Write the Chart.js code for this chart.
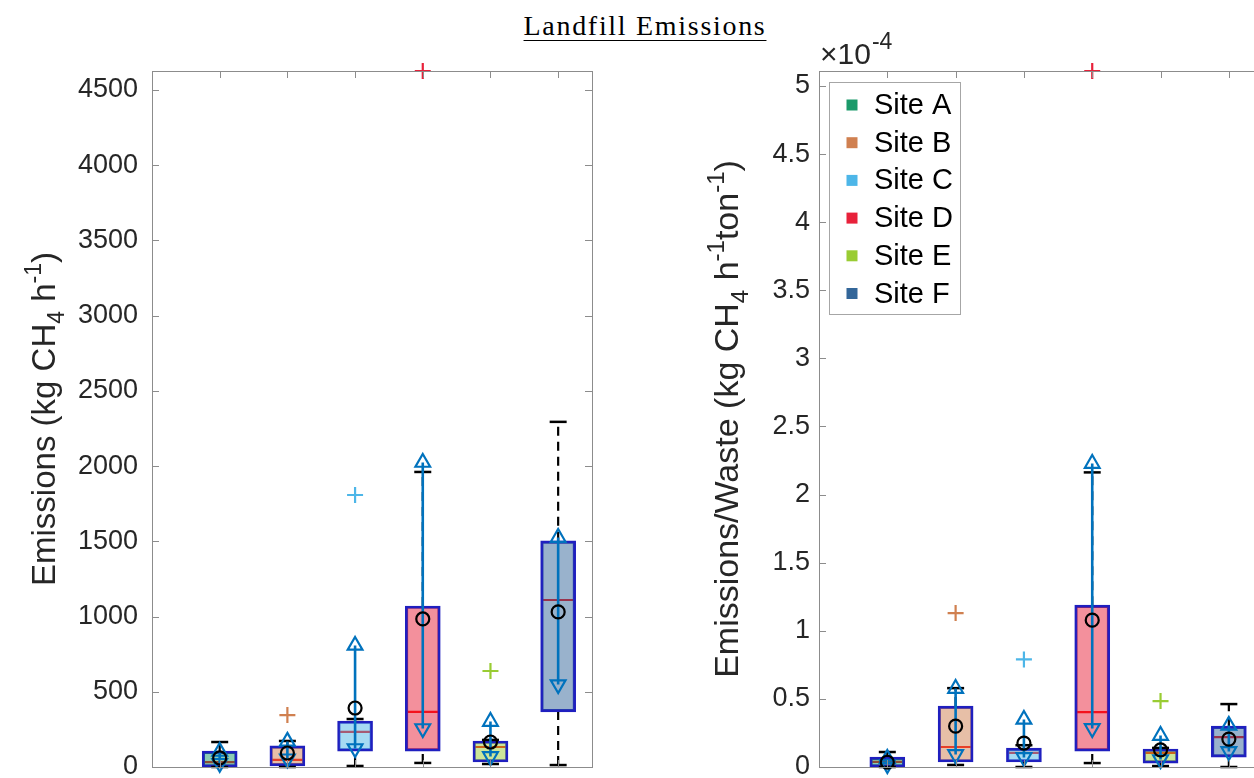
<!DOCTYPE html>
<html>
<head>
<meta charset="utf-8">
<title>Landfill Emissions</title>
<script src="https://cdn.jsdelivr.net/npm/chart.js@4.4.1/dist/chart.umd.min.js"></script>
<style>
  html, body { margin: 0; padding: 0; background: #ffffff; }
  body { position: relative; width: 1254px; height: 778px; overflow: hidden; }
  #title {
    position: absolute; left: 445px; top: 11px; width: 400px; text-align: center;
    font-family: "Liberation Serif", "DejaVu Serif", serif; font-size: 28px; line-height: 30px;
    letter-spacing: 1.7px; color: #000;
    text-decoration: underline; text-decoration-thickness: 1px; text-underline-offset: 5px;
  }
  canvas { position: absolute; top: 0; }
  #emChart { left: 0; }
  #ewChart { left: 640px; }
</style>
</head>
<body>
<div id="title">Landfill Emissions</div>
<canvas id="emChart" width="620" height="778"></canvas>
<canvas id="ewChart" width="660" height="778"></canvas>

<script>
// ---- sites ----
const SITES = ['Site A', 'Site B', 'Site C', 'Site D', 'Site E', 'Site F'];
const SITE_COLORS = ['#1b9a6a', '#d08050', '#4db6e8', '#e8213a', '#99cc33', '#336699'];
const SITE_FILLS = ['rgba(27,154,106,0.5)', 'rgba(208,128,80,0.5)', 'rgba(77,182,232,0.5)',
                    'rgba(232,33,58,0.5)', 'rgba(153,204,51,0.5)', 'rgba(51,102,153,0.5)'];
const POSITIONS = [1, 2, 3, 4, 5, 6];

// ---- emissions, kg CH4 per hour ----
const emQ1          = [0, 7, 106, 106, 33, 366];
const emQ3          = [106, 140, 306, 1070, 173, 1503];
const emMedian      = [33, 47, 233, 366, 133, 1110];
const emWhiskerLow  = [0, 0, 7, 27, 20, 13];
const emWhiskerHigh = [166, 173, 319, 1961, 180, 2294];
const emMean        = [60, 93, 392, 984, 166, 1031];
const emRangeHigh   = [103, 170, 808, 2024, 302, 1525];
const emRangeLow    = [25, 55, 123, 256, 70, 548];
const emOutlierSite  = [2, 3, 4, 5];
const emOutlierValue = [345, 1808, 4626, 638];
const emYMin = 0, emYMax = 4626;
const emTickValues = [0, 500, 1000, 1500, 2000, 2500, 3000, 3500, 4000, 4500];

// ---- emissions per waste, x 10^-4 kg CH4 per hour per ton ----
const ewExponent = -4;
const ewQ1          = [0, 0.037, 0.037, 0.117, 0.029, 0.073];
const ewQ3          = [0.073, 0.447, 0.139, 1.188, 0.132, 0.300];
const ewMedian      = [0.037, 0.147, 0.103, 0.403, 0.103, 0.220];
const ewWhiskerLow  = [0, 0.015, 0, 0.029, 0.007, 0];
const ewWhiskerHigh = [0.110, 0.579, 0.160, 2.163, 0.140, 0.462];
const ewMean        = [0.035, 0.300, 0.176, 1.078, 0.125, 0.205];
const ewRangeHigh   = [0.062, 0.576, 0.349, 2.228, 0.231, 0.305];
const ewRangeLow    = [0.018, 0.092, 0.070, 0.283, 0.055, 0.114];
const ewOutlierSite  = [2, 3, 4, 5];
const ewOutlierValue = [1.13, 0.79, 5.11, 0.484];
const ewYMin = 0, ewYMax = 5.11;
const ewTickValues = [0, 0.5, 1, 1.5, 2, 2.5, 3, 3.5, 4, 4.5, 5];

// ---- styling ----
const AXIS_GREY = '#8c8c8c';
const TEXT_DARK = '#262626';
const BOX_EDGE = '#1f1fbf';
const RANGE_BLUE = '#0072bd';
const SANS = '"Liberation Sans", Arial, Helvetica, sans-serif';

// Builds a line series of vertical segments separated by gaps.
function segments(lows, highs) {
  const pts = [];
  POSITIONS.forEach((x, i) => {
    pts.push({ x, y: lows[i] }, { x, y: highs[i] }, { x, y: null });
  });
  return pts;
}

function boxDatasets(s) {
  const whiskerPts = [];
  POSITIONS.forEach((x, i) => {
    whiskerPts.push({ x, y: s.wLow[i] }, { x, y: s.q1[i] }, { x, y: null });
    whiskerPts.push({ x, y: s.q3[i] }, { x, y: s.wHigh[i] }, { x, y: null });
  });
  const caps = [];
  POSITIONS.forEach((x, i) => { caps.push({ x, y: s.wLow[i] }, { x, y: s.wHigh[i] }); });
  return [
    { // median (under the translucent box fill)
      type: 'scatter', label: 'median', order: 10, clip: false,
      data: POSITIONS.map((x, i) => ({ x, y: s.median[i] })),
      pointStyle: 'line', pointRadius: 17, pointHoverRadius: 17,
      pointBorderColor: '#ff0000', borderColor: '#ff0000', pointBorderWidth: 2.2
    },
    { // interquartile box
      type: 'bar', label: 'box', order: 9, clip: false,
      data: POSITIONS.map((x, i) => ({ x, y: [s.q1[i], s.q3[i]] })),
      backgroundColor: SITE_FILLS, borderColor: BOX_EDGE, borderWidth: 2.5,
      borderSkipped: false, barThickness: 35
    },
    { // whiskers
      type: 'line', label: 'whisker', order: 8, clip: false,
      data: whiskerPts, borderColor: '#000', borderWidth: 2.2, borderDash: [9, 6],
      pointRadius: 0, spanGaps: false, fill: false
    },
    { // whisker caps
      type: 'scatter', label: 'cap', order: 7, clip: false,
      data: caps, pointStyle: 'line', pointRadius: 8.5, pointHoverRadius: 8.5,
      pointBorderColor: '#000', borderColor: '#000', pointBorderWidth: 2.5
    },
    { // outliers
      type: 'scatter', label: 'outlier', order: 6, clip: false,
      data: s.outSite.map((x, i) => ({ x, y: s.outValue[i] })),
      pointStyle: 'cross', pointRadius: 8, pointHoverRadius: 8,
      pointBorderColor: s.outSite.map(x => SITE_COLORS[x - 1]), pointBorderWidth: 2.2
    },
    { // range line
      type: 'line', label: 'range', order: 5, clip: false,
      data: segments(s.rLow, s.rHigh), borderColor: RANGE_BLUE, borderWidth: 2.6,
      pointRadius: 0, spanGaps: false, fill: false
    },
    { // range high marker
      type: 'scatter', label: 'range high', order: 4, clip: false,
      data: POSITIONS.map((x, i) => ({ x, y: s.rHigh[i] })),
      pointStyle: 'triangle', pointRotation: 0, pointRadius: 8.5, pointHoverRadius: 8.5,
      pointBorderColor: RANGE_BLUE, pointBackgroundColor: 'rgba(0,0,0,0)', pointBorderWidth: 2.2
    },
    { // range low marker
      type: 'scatter', label: 'range low', order: 3, clip: false,
      data: POSITIONS.map((x, i) => ({ x, y: s.rLow[i] })),
      pointStyle: 'triangle', pointRotation: 180, pointRadius: 8.5, pointHoverRadius: 8.5,
      pointBorderColor: RANGE_BLUE, pointBackgroundColor: 'rgba(0,0,0,0)', pointBorderWidth: 2.2
    },
    { // mean
      type: 'scatter', label: 'mean', order: 2, clip: false,
      data: POSITIONS.map((x, i) => ({ x, y: s.mean[i] })),
      pointStyle: 'circle', pointRadius: 6.5, pointHoverRadius: 6.5,
      pointBorderColor: '#000', pointBackgroundColor: 'rgba(0,0,0,0)', pointBorderWidth: 2.2
    }
  ];
}

// Frame with inward tick marks on all four sides.
const framePlugin = {
  id: 'frame',
  afterDatasetsDraw(chart) {
    const { ctx, chartArea: a, scales } = chart;
    const tl = 7;
    ctx.save();
    ctx.strokeStyle = AXIS_GREY;
    ctx.lineWidth = 1;
    ctx.strokeRect(Math.round(a.left) + 0.5, Math.round(a.top) + 0.5,
                   Math.round(a.right - a.left), Math.round(a.bottom - a.top));
    ctx.beginPath();
    scales.y.ticks.forEach(t => {
      const y = Math.round(scales.y.getPixelForValue(t.value)) + 0.5;
      ctx.moveTo(a.left, y); ctx.lineTo(a.left + tl, y);
      ctx.moveTo(a.right, y); ctx.lineTo(a.right - tl, y);
    });
    POSITIONS.forEach(p => {
      const x = Math.round(scales.x.getPixelForValue(p)) + 0.5;
      ctx.moveTo(x, a.top); ctx.lineTo(x, a.top + tl);
      ctx.moveTo(x, a.bottom); ctx.lineTo(x, a.bottom - tl);
    });
    ctx.stroke();
    ctx.restore();
  }
};

// Draws a rotated axis title built from plain, subscript and superscript runs.
function drawRichVertical(ctx, parts, baselineX, centerY, size) {
  const fontFor = p => (p.sub || p.sup ? Math.round(size * 0.7) : size) + 'px ' + SANS;
  let total = 0;
  parts.forEach(p => { ctx.font = fontFor(p); p.w = ctx.measureText(p.t).width; total += p.w; });
  ctx.save();
  ctx.translate(baselineX, centerY + total / 2);
  ctx.rotate(-Math.PI / 2);
  ctx.fillStyle = TEXT_DARK;
  ctx.textBaseline = 'alphabetic';
  let x = 0;
  parts.forEach(p => {
    ctx.font = fontFor(p);
    const dy = p.sub ? size * 0.28 : (p.sup ? -size * 0.42 : 0);
    ctx.fillText(p.t, x, dy);
    x += p.w;
  });
  ctx.restore();
}

function axisTitlePlugin(parts, baselineX, size) {
  return {
    id: 'axisTitle',
    afterDraw(chart) {
      const a = chart.chartArea;
      drawRichVertical(chart.ctx, parts, baselineX, (a.top + a.bottom) / 2, size);
    }
  };
}

// Site legend boxed in the upper-left of the plot area.
const legendPlugin = {
  id: 'siteLegend',
  afterDraw(chart) {
    const { ctx, chartArea: a } = chart;
    const x0 = Math.round(a.left) + 10, y0 = Math.round(a.top) + 11;
    const w = 131, h = 232, rowH = 37.7;
    ctx.save();
    ctx.fillStyle = '#fff';
    ctx.fillRect(x0, y0, w, h);
    ctx.strokeStyle = '#a6a6a6';
    ctx.lineWidth = 1;
    ctx.strokeRect(x0 + 0.5, y0 + 0.5, w, h);
    ctx.font = '29px ' + SANS;
    ctx.textBaseline = 'middle';
    SITES.forEach((name, i) => {
      const cy = y0 + 23 + i * rowH;
      ctx.fillStyle = SITE_COLORS[i];
      ctx.fillRect(x0 + 23 - 5.5, cy - 5.5, 11, 11);
      ctx.fillStyle = '#000';
      ctx.fillText(name, x0 + 45, cy + 1);
    });
    ctx.restore();
  }
};

// Power-of-ten multiplier above the upper-left corner of the plot area.
const exponentPlugin = {
  id: 'exponent',
  afterDraw(chart) {
    const { ctx, chartArea: a } = chart;
    ctx.save();
    ctx.fillStyle = TEXT_DARK;
    ctx.textBaseline = 'alphabetic';
    ctx.font = '30px ' + SANS;
    const base = '\u00d710';
    const x = a.left + 1, y = a.top - 7;
    ctx.fillText(base, x, y);
    const bw = ctx.measureText(base).width;
    ctx.font = '23px ' + SANS;
    ctx.fillText(String(ewExponent), x + bw + 1, y - 15);
    ctx.restore();
  }
};

function panel(canvasId, series, yMin, yMax, tickValues, yAxisWidth, tickPad, padRight, tickFormat, plugins) {
  return new Chart(document.getElementById(canvasId), {
    type: 'bar',
    data: { datasets: boxDatasets(series) },
    options: {
      responsive: false,
      animation: false,
      events: [],
      layout: { autoPadding: false, padding: { left: 0, right: padRight, top: 71, bottom: 11 } },
      plugins: { legend: { display: false }, tooltip: { enabled: false } },
      scales: {
        x: {
          type: 'linear', display: false, min: 0, max: 6.5, offset: false,
          grid: { display: false }
        },
        y: {
          type: 'linear', min: yMin, max: yMax,
          grid: { display: false, drawTicks: false },
          border: { display: false },
          ticks: {
            padding: tickPad, color: TEXT_DARK, font: { family: SANS, size: 27 },
            callback: tickFormat
          },
          afterBuildTicks(scale) { scale.ticks = tickValues.map(v => ({ value: v })); },
          afterFit(scale) {
            scale.width = yAxisWidth;
            scale.paddingTop = 0;
            scale.paddingBottom = 0;
          }
        }
      }
    },
    plugins: plugins
  });
}

const emSeries = {
  q1: emQ1, q3: emQ3, median: emMedian, wLow: emWhiskerLow, wHigh: emWhiskerHigh,
  mean: emMean, rHigh: emRangeHigh, rLow: emRangeLow,
  outSite: emOutlierSite, outValue: emOutlierValue
};
const ewSeries = {
  q1: ewQ1, q3: ewQ3, median: ewMedian, wLow: ewWhiskerLow, wHigh: ewWhiskerHigh,
  mean: ewMean, rHigh: ewRangeHigh, rLow: ewRangeLow,
  outSite: ewOutlierSite, outValue: ewOutlierValue
};

panel('emChart', emSeries, emYMin, emYMax, emTickValues, 152, 14, 28,
  v => String(Math.round(v)),
  [framePlugin,
   axisTitlePlugin([{ t: 'Emissions (kg CH' }, { t: '4', sub: true }, { t: ' h' },
                    { t: '-1', sup: true }, { t: ')' }], 55, 33)]);

panel('ewChart', ewSeries, ewYMin, ewYMax, ewTickValues, 179, 9, 37,
  v => String(Number(v.toFixed(1))),
  [framePlugin, legendPlugin, exponentPlugin,
   axisTitlePlugin([{ t: 'Emissions/Waste (kg CH' }, { t: '4', sub: true }, { t: ' h' },
                    { t: '-1', sup: true }, { t: 'ton' }, { t: '-1', sup: true }, { t: ')' }], 98, 34)]);
</script>
</body>
</html>
